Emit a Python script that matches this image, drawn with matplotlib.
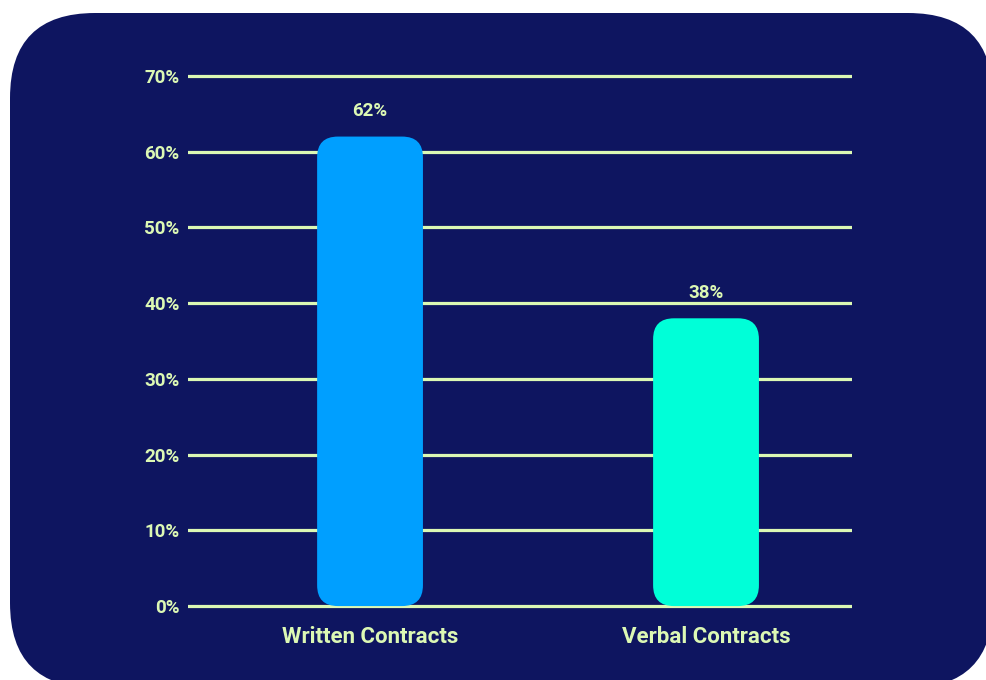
import matplotlib.pyplot as plt
from matplotlib.patches import FancyBboxPatch
from matplotlib.ticker import FuncFormatter

categories = ["Written Contracts", "Verbal Contracts"]
shares = [62, 38]
bar_colors = ["#009fff", "#00ffd8"]
yticks = [0, 10, 20, 30, 40, 50, 60, 70]

bg = "#0e1560"
ink = "#dcf8b4"
plt.rcParams['font.family'] = ['Roboto', 'DejaVu Sans']

fig = plt.figure(figsize=(9.86, 6.8), dpi=100, facecolor="white")

# rounded dark panel behind the chart
back = fig.add_axes([0, 0, 1, 1])
back.set_xlim(0, 986)
back.set_ylim(680, 0)
back.axis("off")
back.add_patch(FancyBboxPatch((10, 13), 983, 675,
                              boxstyle="round,pad=0,rounding_size=85",
                              facecolor=bg, edgecolor="none"))

ax = fig.add_axes([0.1907, 0.0976, 0.6734, 0.8018])
ax.set_facecolor("none")
ax.set_xlim(-0.5417, 1.4345)
ax.set_ylim(-1, 71)
for s in ax.spines.values():
    s.set_visible(False)

for t in yticks:
    ax.axhline(t, color=ink, lw=2.3, zorder=1)

# bars with rounded corners; aspect taken from the axes scale
fig.canvas.draw()
p0 = ax.transData.transform((0, 0))
p1 = ax.transData.transform((1, 1))
aspect = (p1[0] - p0[0]) / (p1[1] - p0[1])
width = 0.315
for i, (v, c) in enumerate(zip(shares, bar_colors)):
    ax.add_patch(FancyBboxPatch((i - width / 2, 0), width, v,
                                boxstyle="round,pad=0,rounding_size=0.062",
                                mutation_aspect=aspect,
                                facecolor=c, edgecolor="none", zorder=2))
    ax.annotate(f"{v}%", (i, v), xytext=(0, 12), textcoords="offset points",
                ha="center", va="bottom", color=ink, fontsize=13.5,
                fontweight="semibold")

ax.set_xticks(range(len(categories)))
ax.set_xticklabels(categories, color=ink, fontsize=16, fontweight="semibold")
ax.set_yticks(yticks)
ax.yaxis.set_major_formatter(FuncFormatter(lambda v, p: f"{v:.0f}%"))
ax.tick_params(axis="y", length=0, pad=6, labelcolor=ink, labelsize=13.5)
ax.tick_params(axis="x", length=0, pad=9)
for lab in ax.get_yticklabels():
    lab.set_fontweight("semibold")

fig.savefig("out.png", dpi=100, facecolor="white")
